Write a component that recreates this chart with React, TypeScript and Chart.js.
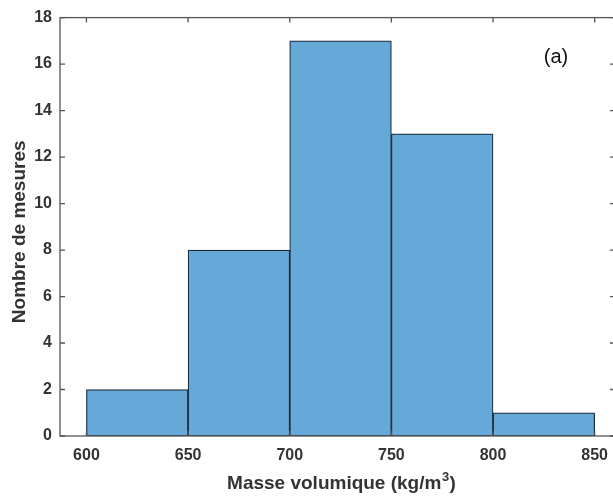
import React, { useEffect, useRef } from "react";
import { Chart, registerables } from "chart.js";

Chart.register(...registerables);

const binCenters = [625, 675, 725, 775, 825];
const counts = [2, 8, 17, 13, 1];
const xTicks = [600, 650, 700, 750, 800, 850];
const yTicks = [0, 2, 4, 6, 8, 10, 12, 14, 16, 18];
const xTitleMain = "Masse volumique (kg/m";
const xTitleSup = "3";
const xTitleEnd = ")";
const yTitle = "Nombre de mesures";
const panelLabel = "(a)";

const FONT = "'Liberation Sans', Arial, sans-serif";

const frameTicks = {
  id: "frameTicks",
  afterDraw(chart: any) {
    const { ctx, chartArea } = chart;
    const { left, right, top, bottom } = chartArea;
    const xs = chart.scales.x;
    const ys = chart.scales.y;
    ctx.save();
    ctx.strokeStyle = "#555";
    ctx.lineWidth = 1.3;
    ctx.strokeRect(left, top, right - left, bottom - top);
    const L = 5;
    ctx.beginPath();
    xTicks.forEach((v) => {
      const p = xs.getPixelForValue(v);
      ctx.moveTo(p, bottom);
      ctx.lineTo(p, bottom - L);
      ctx.moveTo(p, top);
      ctx.lineTo(p, top + L);
    });
    yTicks.forEach((v) => {
      const p = ys.getPixelForValue(v);
      ctx.moveTo(left, p);
      ctx.lineTo(left + L, p);
      ctx.moveTo(right, p);
      ctx.lineTo(right - L, p);
    });
    ctx.stroke();

    // panel label
    ctx.fillStyle = "#111";
    ctx.font = `20px ${FONT}`;
    ctx.textAlign = "center";
    ctx.textBaseline = "middle";
    ctx.fillText(panelLabel, xs.getPixelForValue(831), ys.getPixelForValue(16.3));

    // x title with superscript
    ctx.fillStyle = "#333";
    const mainFont = `bold 19px ${FONT}`;
    const supFont = `bold 13px ${FONT}`;
    ctx.font = mainFont;
    const w1 = ctx.measureText(xTitleMain).width;
    const w3 = ctx.measureText(xTitleEnd).width;
    ctx.font = supFont;
    const w2 = ctx.measureText(xTitleSup).width + 1;
    const total = w1 + w2 + w3;
    const cx = (left + right) / 2 + 4;
    let x0 = cx - total / 2;
    const base = bottom + 53;
    ctx.textAlign = "left";
    ctx.textBaseline = "alphabetic";
    ctx.font = mainFont;
    ctx.fillText(xTitleMain, x0, base);
    ctx.font = supFont;
    ctx.fillText(xTitleSup, x0 + w1 + 0.5, base - 8);
    ctx.font = mainFont;
    ctx.fillText(xTitleEnd, x0 + w1 + w2, base);

    // y title
    ctx.translate(20, (top + bottom) / 2 + 5);
    ctx.rotate(-Math.PI / 2);
    ctx.textAlign = "center";
    ctx.textBaseline = "middle";
    ctx.font = mainFont;
    ctx.fillText(yTitle, 0, 0);
    ctx.restore();
  },
};

export default function App() {
  const ref = useRef<HTMLCanvasElement | null>(null);
  useEffect(() => {
    if (!ref.current) return;
    const chart = new Chart(ref.current, {
      type: "bar",
      data: {
        datasets: [
          {
            data: binCenters.map((x, i) => ({ x, y: counts[i] })),
            backgroundColor: "#64a9d7",
            borderColor: "#1c2a38",
            borderWidth: 1.2,
            barPercentage: 1,
            categoryPercentage: 1,
            borderSkipped: false,
          },
        ],
      },
      options: {
        responsive: false,
        animation: false,
        devicePixelRatio: 1,
        layout: { padding: { left: 0, top: 15, right: 6, bottom: 0 } },
        plugins: { legend: { display: false }, tooltip: { enabled: false } },
        scales: {
          x: {
            type: "linear",
            min: 587,
            max: 860,
            offset: false,
            afterBuildTicks: (s: any) => {
              s.ticks = xTicks.map((v) => ({ value: v }));
            },
            afterFit: (s: any) => {
              s.height = 61;
            },
            grid: { display: false, drawTicks: false },
            border: { display: false },
            ticks: {
              padding: 10,
              color: "#333",
              font: { family: FONT, size: 16, weight: "bold" },
            },
            title: { display: false },
          },
          y: {
            type: "linear",
            min: 0,
            max: 18,
            afterBuildTicks: (s: any) => {
              s.ticks = yTicks.map((v) => ({ value: v }));
            },
            afterFit: (s: any) => {
              s.width = 60;
            },
            grid: { display: false, drawTicks: false },
            border: { display: false },
            ticks: {
              padding: 8,
              color: "#333",
              font: { family: FONT, size: 16, weight: "bold" },
            },
            title: { display: false },
          },
        },
      },
      plugins: [frameTicks],
    } as any);
    return () => chart.destroy();
  }, []);
  return (
    <div
      style={{
        position: "fixed",
        left: 0,
        top: 0,
        width: 613,
        height: 497,
        overflow: "hidden",
        background: "#fff",
      }}
    >
      <canvas ref={ref} width={621} height={497} style={{ display: "block" }} />
    </div>
  );
}
